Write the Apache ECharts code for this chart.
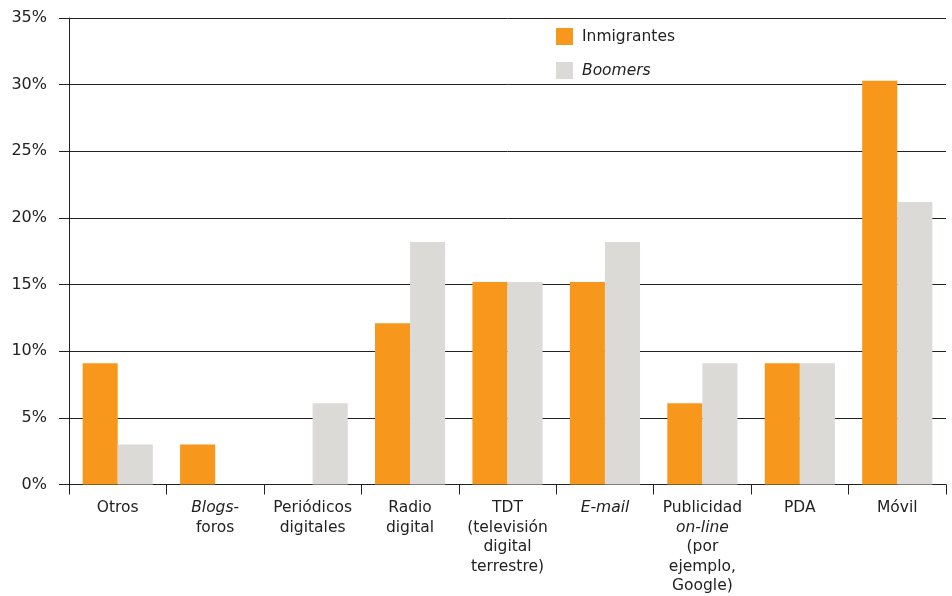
<!DOCTYPE html>
<html><head><meta charset="utf-8">
<script src="https://cdn.jsdelivr.net/npm/echarts@6/dist/echarts.min.js"></script>
<style>html,body{margin:0;padding:0;background:#fff}#c{width:952px;height:596px}</style>
</head><body><div id="c"></div>
<script>
const categories = ['Otros', '{i|Blogs}-\nforos', 'Periódicos\ndigitales', 'Radio\ndigital', 'TDT\n(televisión\ndigital\nterrestre)', '{i|E-mail}', 'Publicidad\n{i|on-line}\n(por\nejemplo,\nGoogle)', 'PDA', 'Móvil'];
const seriesNames = ['Inmigrantes', 'Boomers'];
const inmigrantes = [9.1, 3.0, 0, 12.1, 15.2, 15.2, 6.1, 9.1, 30.3];
const boomers = [3.0, 0, 6.1, 18.2, 15.2, 18.2, 9.1, 9.1, 21.2];
const yTicks = [0, 5, 10, 15, 20, 25, 30, 35];

const FONT = 'DejaVu Sans';
const FS = 15.5;
const chart = echarts.init(document.getElementById('c'), null, {renderer: 'canvas'});
chart.setOption({
  animation: false,
  textStyle: {fontFamily: FONT},
  grid: {left: 69, right: 6, top: 18, bottom: 111, containLabel: false},
  legend: {
    orient: 'vertical', left: 556, top: 28, padding: 0, itemWidth: 17, itemHeight: 17, itemGap: 17,
    icon: 'rect',
    textStyle: {fontFamily: FONT, fontSize: FS, color: '#222', padding: [0, 0, 0, 4],
      rich: {i: {fontStyle: 'italic', fontFamily: FONT, fontSize: FS, color: '#222'}}},
    formatter: n => n === 'Boomers' ? '{i|Boomers}' : n,
    data: seriesNames
  },
  xAxis: {
    type: 'category', data: categories,
    axisLine: {lineStyle: {color: '#222', width: 1}},
    axisTick: {show: true, length: 10, alignWithLabel: false, lineStyle: {color: '#222'}},
    axisLabel: {interval: 0, margin: 14, fontFamily: FONT, fontSize: FS, color: '#222', lineHeight: 19.5, align: 'center',
      rich: {i: {fontStyle: 'italic', fontFamily: FONT, fontSize: FS, color: '#222', lineHeight: 19.5}}}
  },
  yAxis: {
    type: 'value', min: 0, max: 35, interval: 5,
    axisLine: {show: true, lineStyle: {color: '#222', width: 1}},
    axisTick: {show: true, length: 10, inside: false, lineStyle: {color: '#222'}},
    axisLabel: {margin: 22, fontFamily: FONT, fontSize: 16, color: '#222', formatter: v => yTicks.includes(v) ? v + '%' : ''},
    splitLine: {show: true, lineStyle: {color: '#222', width: 1}}
  },
  series: [
    {name: seriesNames[0], type: 'bar', data: inmigrantes, barGap: '0%', barCategoryGap: '28%', itemStyle: {color: '#F7981D'}},
    {name: seriesNames[1], type: 'bar', data: boomers, barGap: '0%', barCategoryGap: '28%', itemStyle: {color: '#DCDAD7'}}
  ]
});
</script></body></html>
